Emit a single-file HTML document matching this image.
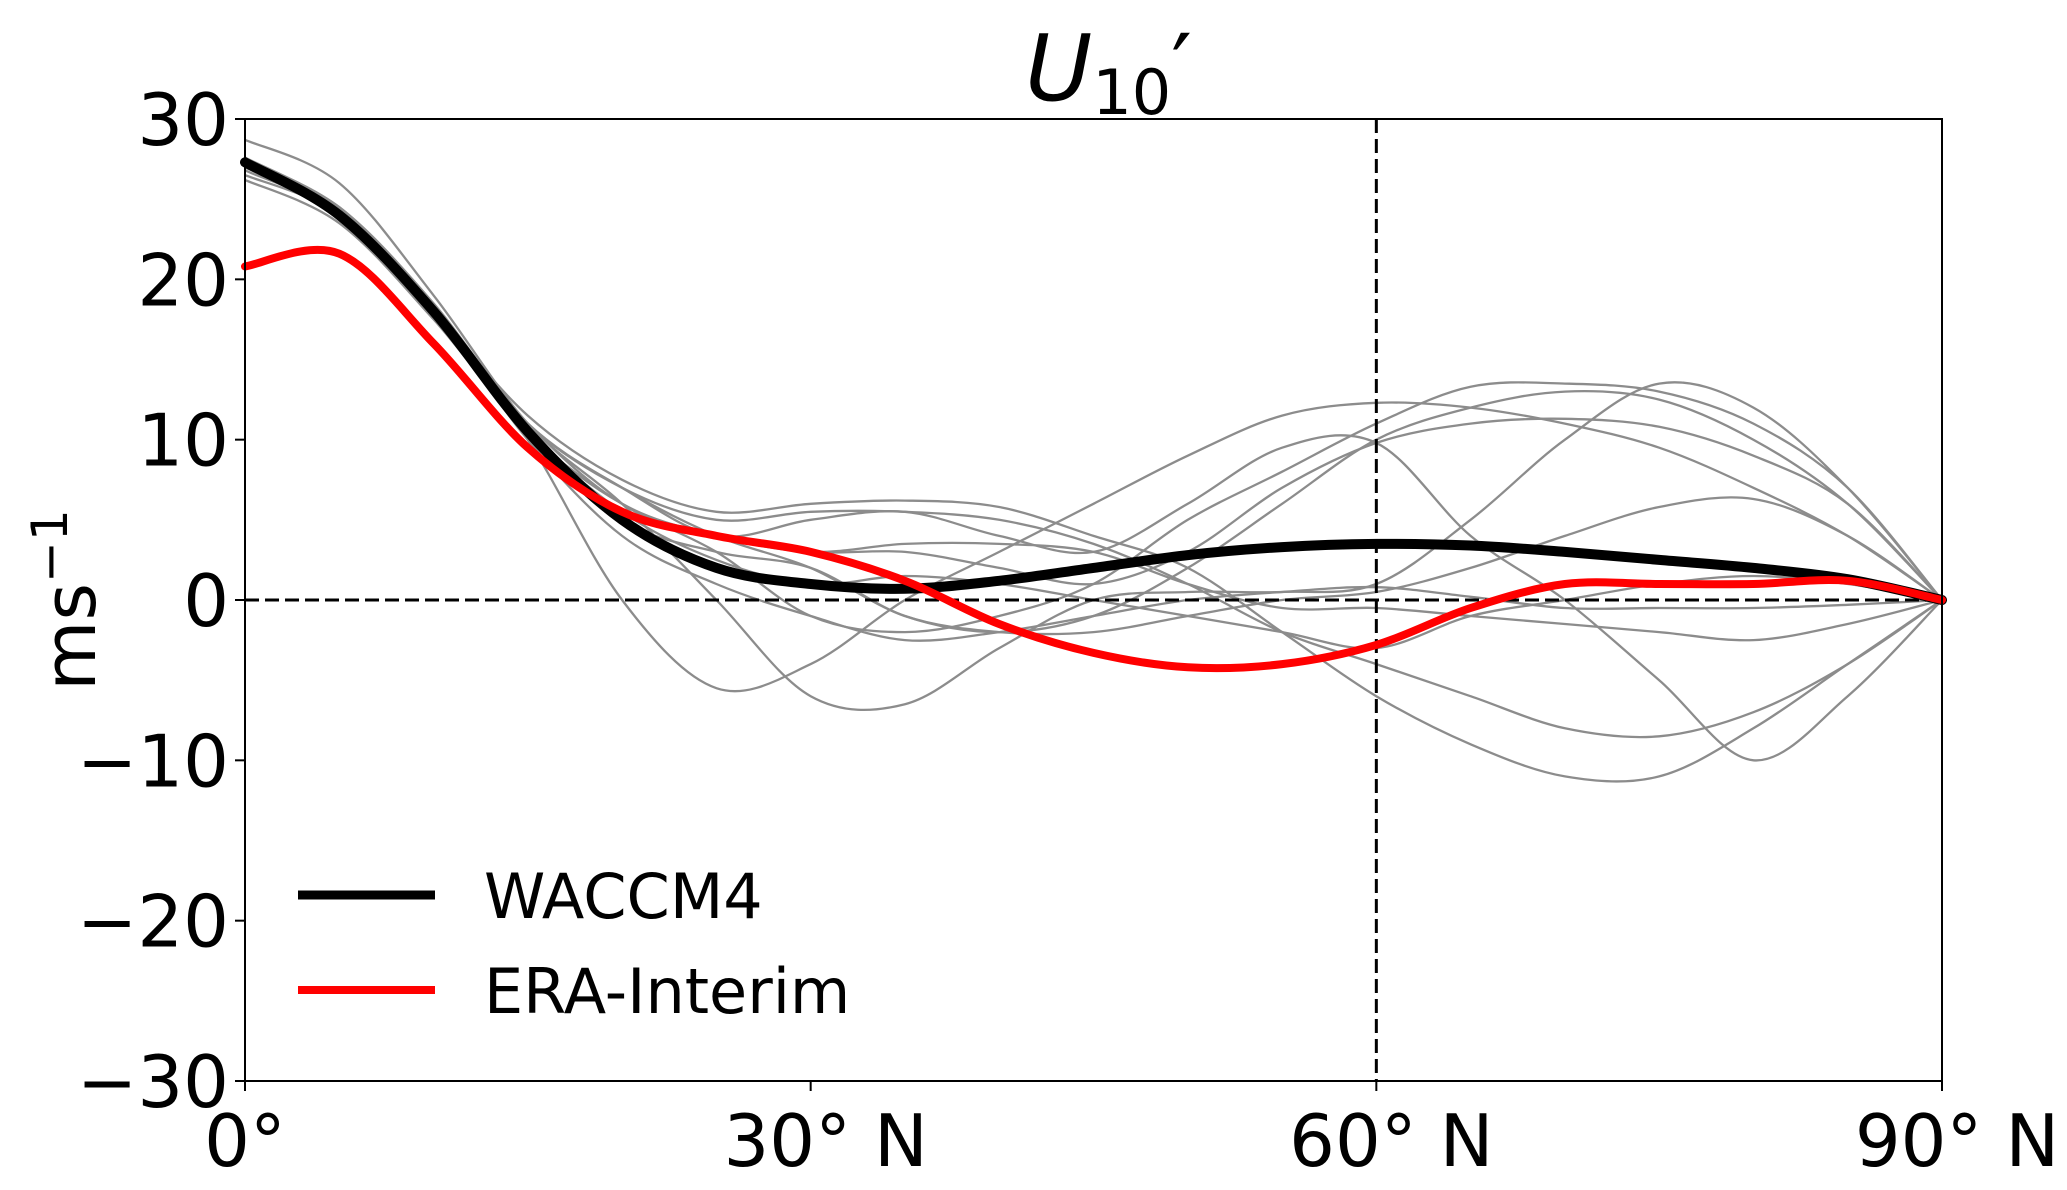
<!DOCTYPE html>
<html><head><meta charset="utf-8"><style>
html,body{margin:0;padding:0;background:#fff;}
svg{display:block;font-family:"DejaVu Sans","Liberation Sans",sans-serif;}
</style></head><body>
<svg id="chart" width="2067" height="1190" viewBox="0 0 2067 1190" xmlns="http://www.w3.org/2000/svg">
<g id="members"></g>
<g id="main"></g>
<g id="axes"></g>
</svg>
<script>
const lats = [0,5,10,15,20,25,30,35,40,45,50,55,60,65,70,75,80,85,90];
const waccm = [27.3,24,18,10.5,5,2,1,0.7,1.2,2,2.8,3.3,3.5,3.4,3,2.5,2,1.3,0];
const era = [20.8,21.6,16,9.5,5.5,4,3,1.2,-1.5,-3.3,-4.2,-4,-2.8,-0.5,1,1,1,1.2,0];
const memberA = [27,24.5,18,10,0,-5.5,-4,0,3,6,9,11.5,12.3,12,11,9.5,7,4,0];
const memberB = [28.7,26,19,11,6,0,-6,-6.5,-3,0,0.5,0.5,1,5,10,13.5,12,7,0];
const memberC = [27,24,18,10.5,6,3,-1,-2,-1,1,5,8,11,13.3,13.5,13,11,7,0];
const memberD = [27,24,18,11,7,4,2,-1,-2,-1,2,6,10,12,13,12.5,10,6,0];
const memberE = [26.5,24,18,11,6,4,3,3,2,1,3,7,9.8,11,11.3,10.8,9,6,0];
const memberF = [27.5,24.5,18.5,11,7,4,5,5.5,4,3,6,9.5,9.8,4,0,-5,-10,-6,0];
const memberG = [27,24,18,11.5,7.5,5.5,6,6.2,5.8,4,2,-2,-6,-9,-11,-11,-8,-4,0];
const memberH = [26.8,24,18,11,7,5,5.5,5.5,5,3.5,1,-2,-4,-6,-8,-8.5,-7,-4,0];
const memberI = [27.2,24.2,18,10.5,5,3,2,-1,-2,-2,-1,0,0.5,2,4,5.8,6.3,4,0];
const memberJ = [26.2,23.5,17.5,10.5,6,4,3,3.5,3.5,3,1,-0.5,-0.5,-1,-1.5,-2,-2.5,-1.5,0];
const memberK = [27,24,18,10,4,1,-1,-2.5,-2,-1,0,0.5,0.8,0.2,-0.5,-0.5,-0.5,-0.3,0];
const memberL = [27.6,24.4,18.2,10.6,5.5,2.5,1,1.5,1,0,-1,-2,-3,-1,0,1,1.5,1,0];
const members = [memberA,memberB,memberC,memberD,memberE,memberF,memberG,memberH,memberI,memberJ,memberK,memberL];
const yTicks = [30,20,10,0,-10,-20,-30];
const yTickLabels = ["30","20","10","0","\u221210","\u221220","\u221230"];
const xTicks = [0,30,60,90];
const xTickLabels = ["0\u00b0","30\u00b0 N","60\u00b0 N","90\u00b0 N"];

const L=245,R=1942,T=119,B=1081;
const xs = d => L + (d-0)/(90-0)*(R-L);
const ys = v => B - (v+30)/60*(B-T);
const NS="http://www.w3.org/2000/svg";
function mk(tag, attrs, parent){const e=document.createElementNS(NS,tag);for(const k in attrs)e.setAttribute(k,attrs[k]);parent.appendChild(e);return e;}
function smoothPath(xv,yv){
  const p=xv.map((x,i)=>[xs(x),ys(yv[i])]);
  let d="M"+p[0][0].toFixed(1)+","+p[0][1].toFixed(1);
  for(let i=0;i<p.length-1;i++){
    const p0=p[Math.max(0,i-1)],p1=p[i],p2=p[i+1],p3=p[Math.min(p.length-1,i+2)];
    const c1=[p1[0]+(p2[0]-p0[0])/6,p1[1]+(p2[1]-p0[1])/6];
    const c2=[p2[0]-(p3[0]-p1[0])/6,p2[1]-(p3[1]-p1[1])/6];
    d+=" C"+c1[0].toFixed(1)+","+c1[1].toFixed(1)+" "+c2[0].toFixed(1)+","+c2[1].toFixed(1)+" "+p2[0].toFixed(1)+","+p2[1].toFixed(1);
  }
  return d;
}
const gm=document.getElementById('members'), gmain=document.getElementById('main'), ga=document.getElementById('axes');
members.forEach((m,i)=>{
  const el=mk('path',{d:smoothPath(lats,m),fill:'none',stroke:'#8c8c8c','stroke-width':2.3},gm);
  
  
});
const h0=mk('line',{x1:L,x2:R,y1:ys(0),y2:ys(0),stroke:'#000','stroke-width':3,'stroke-dasharray':'14,6'},gmain);


const v60=mk('line',{x1:xs(60),x2:xs(60),y1:T,y2:B,stroke:'#000','stroke-width':3,'stroke-dasharray':'14,6'},gmain);


const wl=mk('path',{d:smoothPath(lats,waccm),fill:'none',stroke:'#000','stroke-width':10,'stroke-linecap':'round'},gmain);


const el2=mk('path',{d:smoothPath(lats,era),fill:'none',stroke:'#ff0000','stroke-width':8,'stroke-linecap':'round'},gmain);


const fr=mk('rect',{x:L,y:T,width:R-L,height:B-T,fill:'none',stroke:'#000','stroke-width':2},ga);


yTicks.forEach((v,i)=>{
  const t=mk('line',{x1:L-10,x2:L,y1:ys(v),y2:ys(v),stroke:'#000','stroke-width':2},ga);
  
  
  const tx=mk('text',{x:L-16,y:ys(v)+26,'text-anchor':'end','font-size':72,fill:'#000'},ga);
  tx.textContent=yTickLabels[i];
  
  
});
xTicks.forEach((v,i)=>{
  const t=mk('line',{x1:xs(v),x2:xs(v),y1:B,y2:B+10,stroke:'#000','stroke-width':2},ga);
  
  
  const tx=mk('text',{x:xs(v)+(i===0?0:15),y:1166,'text-anchor':'middle','font-size':72,fill:'#000'},ga);
  tx.textContent=xTickLabels[i];
  
  
});
</script>
<svg style="position:absolute;left:0;top:0" width="2067" height="1190">
<text x="1025" y="100" font-size="92" font-family="DejaVu Sans, sans-serif"><tspan font-style="italic">U</tspan><tspan font-size="62" dy="14">10</tspan><tspan dy="-14" font-size="92">′</tspan></text>
<text transform="translate(95,600) rotate(-90)" text-anchor="middle" font-size="72" font-family="DejaVu Sans, sans-serif">ms<tspan font-size="50" dy="-28">−1</tspan></text>
<g>
<line x1="298" x2="435" y1="895" y2="895" stroke="#000" stroke-width="9"/>
<text x="484" y="918" font-size="62" font-family="DejaVu Sans, sans-serif">WACCM4</text>
<line x1="298" x2="435" y1="990" y2="990" stroke="#ff0000" stroke-width="8"/>
<text x="484" y="1013" font-size="62" font-family="DejaVu Sans, sans-serif">ERA-Interim</text>
</g>
</svg>
</body></html>
